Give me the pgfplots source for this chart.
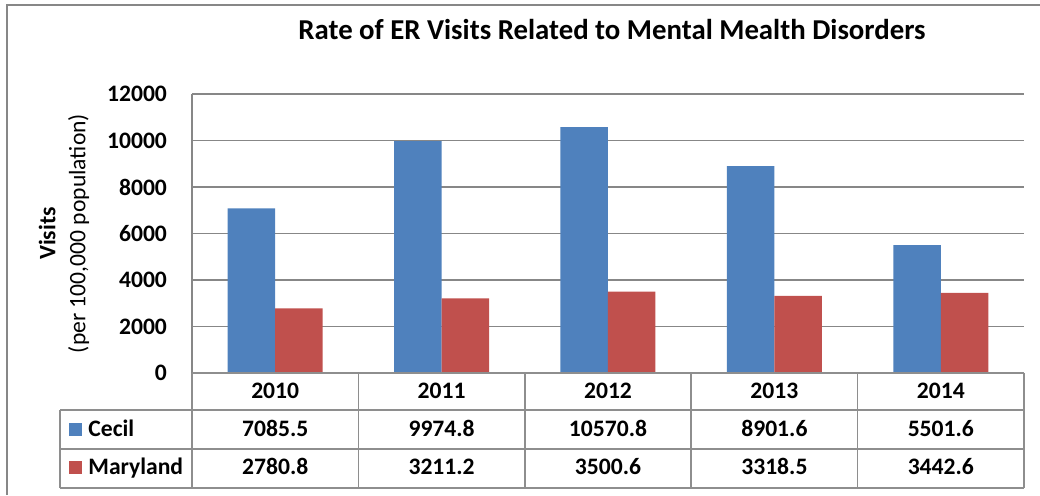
\documentclass[border=0pt]{standalone}
\usepackage{fontspec}
\setmainfont{Carlito}
\usepackage{pgfplots}
\pgfplotsset{compat=1.18}
\definecolor{cecil}{HTML}{4F81BD}
\definecolor{maryland}{HTML}{C0504D}
\definecolor{gridgray}{HTML}{878787}
\definecolor{tablegray}{HTML}{8E8E8E}
\newcommand{\tabfont}{\bfseries\fontsize{11.8}{13}\selectfont}
\begin{document}
\begin{tikzpicture}
\useasboundingbox (0pt,0pt) rectangle (520pt,247.5pt);
\begin{axis}[
  at={(96pt,61pt)}, anchor=south west,
  scale only axis, width=416pt, height=139.5pt,
  ybar=0pt, bar width=23.75pt,
  xmin=-0.5, xmax=4.5, ymin=0, ymax=12000,
  xtick={0,1,2,3,4}, xticklabels={2010,2011,2012,2013,2014},
  ytick={0,2000,...,12000},
  axis x line=bottom, axis y line=left,
  axis line style={-, draw=gridgray, line width=0.8pt},
  major tick length=0pt,
  ymajorgrids, grid style={gridgray, line width=0.8pt},
  scaled y ticks=false,
  /pgf/number format/assume math mode=true,
  /pgf/number format/1000 sep={},
  tick label style={font=\tabfont},
  yticklabel shift=9pt,
  xticklabel style={anchor=base, yshift=-12.65pt},
  title={Rate of ER Visits Related to Mental Mealth Disorders},
  title style={font=\bfseries\fontsize{14.4}{17}\selectfont, at={(axis description cs:0.5048,1.1516)}, anchor=base},
  ylabel={\textbf{Visits}\\(per 100,000 population)},
  ylabel style={align=center, at={(axis description cs:-0.1538,0.5)}, anchor=center, font=\fontsize{11.8}{15}\selectfont},
  clip=false,
]
\addplot[fill=cecil, draw=none] coordinates {(0,7085.5) (1,9974.8) (2,10570.8) (3,8901.6) (4,5501.6)};
\addplot[fill=maryland, draw=none] coordinates {(0,2780.8) (1,3211.2) (2,3500.6) (3,3318.5) (4,3442.6)};
\end{axis}
\begin{scope}[x=0.5pt,y=0.5pt]
\draw[gridgray, line width=0.8pt] (7,0) -- (7,490) -- (1040,490);
% data table
\begin{scope}[tablegray, line width=0.8pt]
\draw (192,122) -- (1024,122);
\draw (60,85) -- (1024,85);
\draw (60,46) -- (1024,46);
\draw (60,7) -- (1024,7);
\draw (60,85) -- (60,7);
\foreach \x in {192,358.4,524.8,691.2,857.6,1024} \draw (\x,122) -- (\x,7);
\end{scope}
\foreach \x/\a/\b in {275.2/7085.5/2780.8, 441.6/9974.8/3211.2, 608/10570.8/3500.6, 774.4/8901.6/3318.5, 940.8/5501.6/3442.6} {
  \node[font=\tabfont, anchor=base, inner sep=0pt] at (\x,59) {\a};
  \node[font=\tabfont, anchor=base, inner sep=0pt] at (\x,21) {\b};
}
\fill[cecil] (69,59) rectangle (82,72);
\fill[maryland] (69,21) rectangle (82,34);
\node[font=\tabfont, anchor=base west, inner sep=0pt] at (88,59) {Cecil};
\node[font=\tabfont, anchor=base west, inner sep=0pt] at (88,21) {Maryland};
\end{scope}
\end{tikzpicture}
\end{document}
